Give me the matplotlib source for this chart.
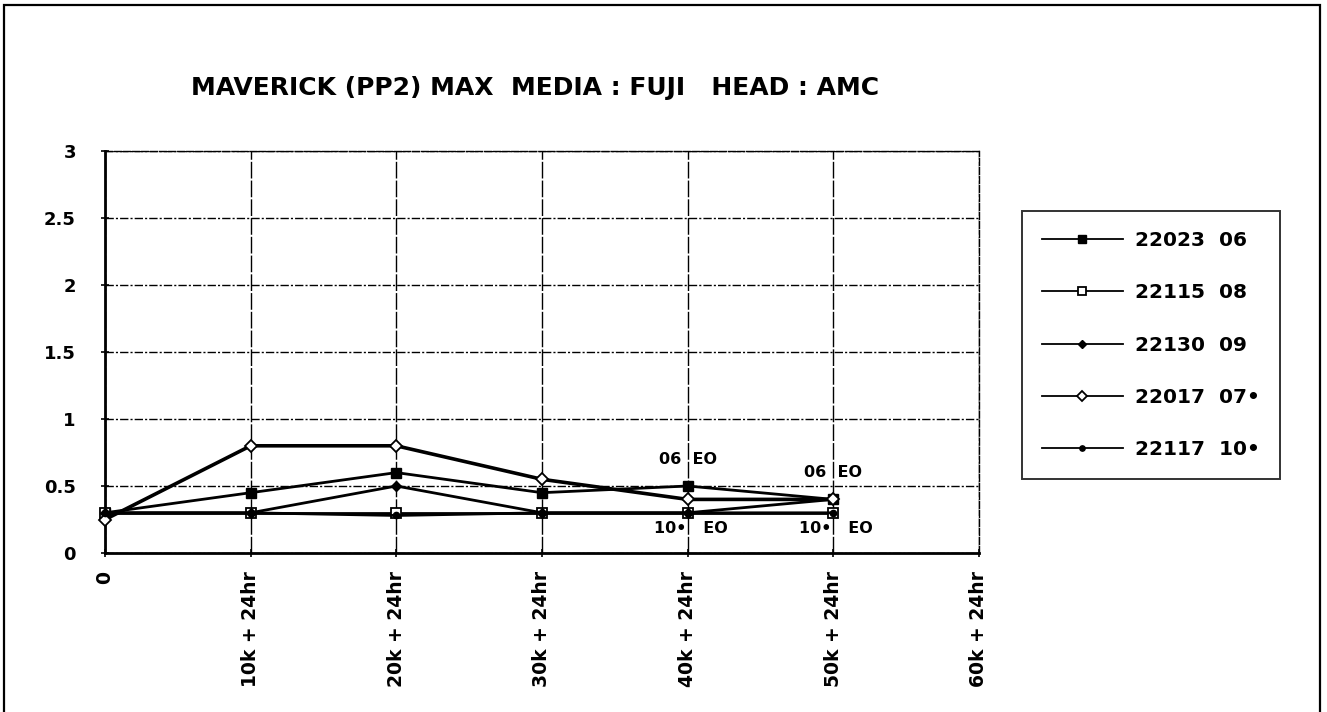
import matplotlib
matplotlib.use("Agg")
import matplotlib.pyplot as plt
from matplotlib.patches import Rectangle

categories = ["0", "10k + 24hr", "20k + 24hr", "30k + 24hr", "40k + 24hr", "50k + 24hr", "60k + 24hr"]
s_22023_06 = [0.30, 0.45, 0.60, 0.45, 0.50, 0.40]
s_22115_08 = [0.30, 0.30, 0.30, 0.30, 0.30, 0.30]
s_22130_09 = [0.30, 0.30, 0.50, 0.30, 0.30, 0.40]
s_22017_07 = [0.25, 0.80, 0.80, 0.55, 0.40, 0.40]
s_22117_10 = [0.30, 0.30, 0.28, 0.30, 0.30, 0.30]
series_labels = ["22023  06", "22115  08", "22130  09", "22017  07\u2022", "22117  10\u2022"]
yticks = [0, 0.5, 1, 1.5, 2, 2.5, 3]
ytick_labels = ["0", "0.5", "1", "1.5", "2", "2.5", "3"]
annotations = [(4, 0.5, "06  EO", "above"), (5, 0.4, "06  EO", "above"),
               (4, 0.3, "10\u2022   EO", "below"), (5, 0.3, "10\u2022   EO", "below")]
title = "MAVERICK (PP2) MAX  MEDIA : FUJI   HEAD : AMC"

plt.rcParams['font.family'] = ['DejaVu Sans']
plt.rcParams['font.weight'] = 'bold'

W, H = 1327, 712
fig = plt.figure(figsize=(W / 100, H / 100), dpi=100)
fig.patch.set_facecolor('white')

# outer border
border = Rectangle((4 / W, -0.05), (1320 - 4) / W, (H - 5) / H + 0.05, transform=fig.transFigure,
                   fill=False, edgecolor='black', linewidth=1.6)
fig.add_artist(border)

left, right, top, bottom = 105, 979, 151, 553
ax = fig.add_axes([left / W, (H - bottom) / H, (right - left) / W, (bottom - top) / H])

x = list(range(len(s_22023_06)))
styles = [
    dict(marker='s', markersize=7, markerfacecolor='black', markeredgecolor='black'),
    dict(marker='s', markersize=7, markerfacecolor='white', markeredgecolor='black', markeredgewidth=1.3),
    dict(marker='D', markersize=5, markerfacecolor='black', markeredgecolor='black'),
    dict(marker='D', markersize=6, markerfacecolor='white', markeredgecolor='black', markeredgewidth=1.3),
    dict(marker='o', markersize=4.5, markerfacecolor='black', markeredgecolor='black'),
]
data = [s_22023_06, s_22115_08, s_22130_09, s_22017_07, s_22117_10]
lws = [2.0, 2.0, 2.0, 2.6, 2.0]
handles = []
for vals, st, lab, lw in zip(data, styles, series_labels, lws):
    h, = ax.plot(x, vals, color='black', linewidth=lw, label=lab, zorder=3, clip_on=False, **st)
    handles.append(h)

ax.set_xlim(0, len(categories) - 1)
ax.set_ylim(0, 3)
ax.set_xticks(range(len(categories)))
ax.set_xticklabels(categories, rotation=90, fontsize=13.5, fontweight='bold', va='top')
ax.set_yticks(yticks)
ax.set_yticklabels(ytick_labels, fontsize=13, fontweight='bold')
ax.tick_params(axis='both', direction='inout', length=6, width=1.2, color='black')
ax.tick_params(axis='x', pad=10)
ax.tick_params(axis='y', pad=18)

ax.yaxis.grid(True, color='black', linestyle=(0, (6, 1.5, 1.5, 1.5)), linewidth=1.0)
ax.xaxis.grid(True, color='black', linestyle=(0, (12, 1.5)), linewidth=1.0)
ax.set_axisbelow(True)
for side in ['left', 'bottom']:
    ax.spines[side].set_linewidth(2.0)
for side in ['top', 'right']:
    ax.spines[side].set_linewidth(1.0)
    ax.spines[side].set_linestyle((0, (5, 1.5)))

for xi, yi, txt, pos in annotations:
    if pos == 'above':
        ax.annotate(txt, (xi, yi), xytext=(0, 14), textcoords='offset points', ha='center', va='bottom',
                    fontsize=11.5, fontweight='bold')
    else:
        ax.annotate(txt, (xi, yi), xytext=(2, -6), textcoords='offset points', ha='center', va='top',
                    fontsize=11.5, fontweight='bold')

fig.text(535 / W, 1 - 88 / H, title, ha='center', va='center', fontsize=18, fontweight='bold')

leg = fig.legend(handles=handles, loc='upper left', bbox_to_anchor=(1022 / W, 1 - 211 / H),
                 frameon=True, fancybox=False, edgecolor='black',
                 prop={'weight': 'bold', 'size': 14.5}, handlelength=4.0, handletextpad=0.6,
                 labelspacing=1.65, borderpad=1.0, borderaxespad=0)
leg.get_frame().set_linewidth(1.4)
for lh in leg.legend_handles:
    lh.set_linewidth(1.3)
    lh.set_markersize(lh.get_markersize() * 0.85)

fig.savefig('out.png', dpi=100)
